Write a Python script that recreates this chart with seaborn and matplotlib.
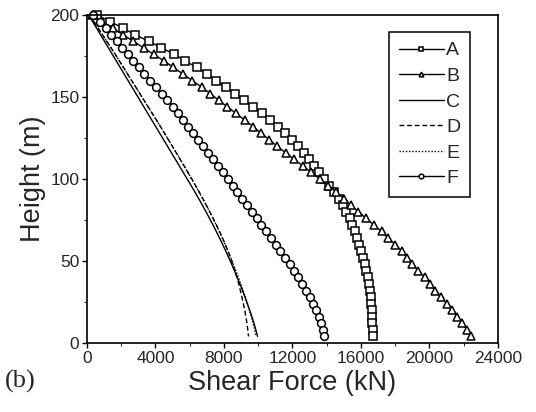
import numpy as np
import pandas as pd
import matplotlib
matplotlib.use("Agg")
import matplotlib.pyplot as plt
from matplotlib.ticker import MultipleLocator
import seaborn as sns


# Heights (m), top to bottom, one point per 4 m storey
HEIGHTS = [200, 196, 192, 188, 184, 180, 176, 172, 168, 164,
           160, 156, 152, 148, 144, 140, 136, 132, 128, 124,
           120, 116, 112, 108, 104, 100, 96, 92, 88, 84,
           80, 76, 72, 68, 64, 60, 56, 52, 48, 44,
           40, 36, 32, 28, 24, 20, 16, 12, 8, 4]

# Shear force (kN)
SHEAR_A = [600, 1350, 2100, 2800, 3600, 4350, 5100, 5750, 6400, 7000,
           7550, 8100, 8650, 9150, 9700, 10200, 10680, 11150, 11550, 11950,
           12300, 12650, 12950, 13250, 13550, 13850, 14150, 14450, 14700, 14950,
           15150, 15350, 15500, 15650, 15780, 15900, 16010, 16120, 16220, 16300,
           16380, 16450, 16510, 16560, 16600, 16630, 16655, 16670, 16685, 16690]
SHEAR_B = [300, 900, 1500, 2100, 2700, 3300, 3900, 4500, 5050, 5600,
           6150, 6700, 7200, 7700, 8200, 8700, 9200, 9700, 10150, 10650,
           11100, 11600, 12100, 12600, 13100, 13600, 14100, 14550, 15000, 15400,
           15850, 16300, 16750, 17200, 17600, 18000, 18400, 18700, 19000, 19350,
           19750, 20050, 20350, 20700, 21000, 21300, 21600, 21900, 22200, 22450]
SHEAR_C = [100, 330, 560, 790, 1020, 1250, 1480, 1710, 1940, 2170,
           2400, 2630, 2860, 3090, 3320, 3550, 3780, 4010, 4240, 4470,
           4700, 4930, 5160, 5390, 5620, 5850, 6080, 6305, 6525, 6740,
           6950, 7155, 7355, 7550, 7740, 7925, 8105, 8280, 8450, 8615,
           8775, 8930, 9080, 9225, 9365, 9500, 9630, 9750, 9860, 9960]
SHEAR_D = [150, 400, 650, 900, 1150, 1400, 1650, 1890, 2130, 2370,
           2610, 2850, 3090, 3330, 3570, 3810, 4050, 4290, 4520, 4750,
           4980, 5210, 5440, 5670, 5895, 6120, 6340, 6555, 6765, 6970,
           7170, 7365, 7555, 7740, 7915, 8080, 8235, 8380, 8515, 8640,
           8755, 8860, 8955, 9045, 9130, 9210, 9280, 9340, 9390, 9430]
SHEAR_E = [150, 400, 650, 900, 1150, 1400, 1650, 1890, 2130, 2370,
           2610, 2850, 3090, 3330, 3570, 3810, 4050, 4290, 4520, 4750,
           4980, 5210, 5440, 5665, 5890, 6110, 6330, 6545, 6755, 6960,
           7160, 7355, 7540, 7720, 7895, 8065, 8230, 8390, 8545, 8695,
           8840, 8980, 9115, 9245, 9370, 9490, 9600, 9700, 9790, 9870]
SHEAR_F = [350, 760, 1100, 1420, 1740, 2060, 2380, 2700, 3020, 3340,
           3680, 4020, 4360, 4700, 5020, 5310, 5600, 5890, 6180, 6470,
           6760, 7050, 7340, 7630, 7920, 8210, 8500, 8780, 9060, 9340,
           9620, 9900, 10180, 10460, 10740, 11020, 11290, 11560, 11830, 12090,
           12340, 12580, 12810, 13020, 13210, 13380, 13530, 13660, 13770, 13860]

CASES = ["A", "B", "C", "D", "E", "F"]
X_TICKS = [0, 4000, 8000, 12000, 16000, 20000, 24000]
Y_TICKS = [0, 50, 100, 150, 200]

# style per case: (linestyle, marker)
STYLES = {
    "A": ("-", "s"),
    "B": ("-", "^"),
    "C": ("-", None),
    "D": ((0, (3.5, 2)), None),
    "E": ((0, (1, 1.3)), None),
    "F": ("-", "o"),
}


def main():
    sns.set_style("ticks")
    plt.rcParams["font.family"] = ["Liberation Sans", "DejaVu Sans"]

    series = [SHEAR_A, SHEAR_B, SHEAR_C, SHEAR_D, SHEAR_E, SHEAR_F]
    df = pd.concat([
        pd.DataFrame({"case": c, "height": HEIGHTS, "shear": s})
        for c, s in zip(CASES, series)
    ], ignore_index=True)

    fig = plt.figure(figsize=(5.36, 4.12), dpi=100)
    ax = fig.add_axes([0.1623, 0.1675, 0.7668, 0.7961])

    for c in CASES:
        ls, mk = STYLES[c]
        sub = df[df["case"] == c]
        sns.lineplot(data=sub, x="shear", y="height", ax=ax, sort=False,
                     estimator=None, color="black", linewidth=1.0,
                     linestyle=ls, marker=mk, markersize=5.6,
                     markerfacecolor="white", markeredgecolor="black",
                     markeredgewidth=1.1, label=c, clip_on=False)

    ax.set_xlim(0, 24000)
    ax.set_ylim(0, 200)
    ax.set_xticks(X_TICKS)
    ax.set_yticks(Y_TICKS)
    ax.xaxis.set_minor_locator(MultipleLocator(2000))
    ax.yaxis.set_minor_locator(MultipleLocator(25))
    ax.tick_params(which="major", direction="out", length=3.5, width=1.0,
                   labelsize=12.5, color="black", pad=2)
    ax.tick_params(which="minor", direction="out", length=2, width=0.8)
    for sp in ax.spines.values():
        sp.set_visible(True)
        sp.set_linewidth(1.2)
        sp.set_color("black")

    ax.set_xlabel("Shear Force (kN)", fontsize=19.5, labelpad=3)
    ax.set_ylabel("Height (m)", fontsize=19.5, labelpad=3)

    leg = ax.legend(loc="upper left", bbox_to_anchor=(0.735, 0.948),
                    fontsize=14, frameon=True, fancybox=False, framealpha=1,
                    edgecolor="black", handlelength=2.3, handletextpad=0.15,
                    labelspacing=0.41, borderpad=0.5, borderaxespad=0,
                    markerscale=0.6)
    leg.get_frame().set_linewidth(1.1)

    fig.text(0.01, 0.075, "(b)", fontsize=19, family="Liberation Serif",
             va="center", ha="left")

    fig.savefig("out.png", dpi=100)


if __name__ == "__main__":
    main()
